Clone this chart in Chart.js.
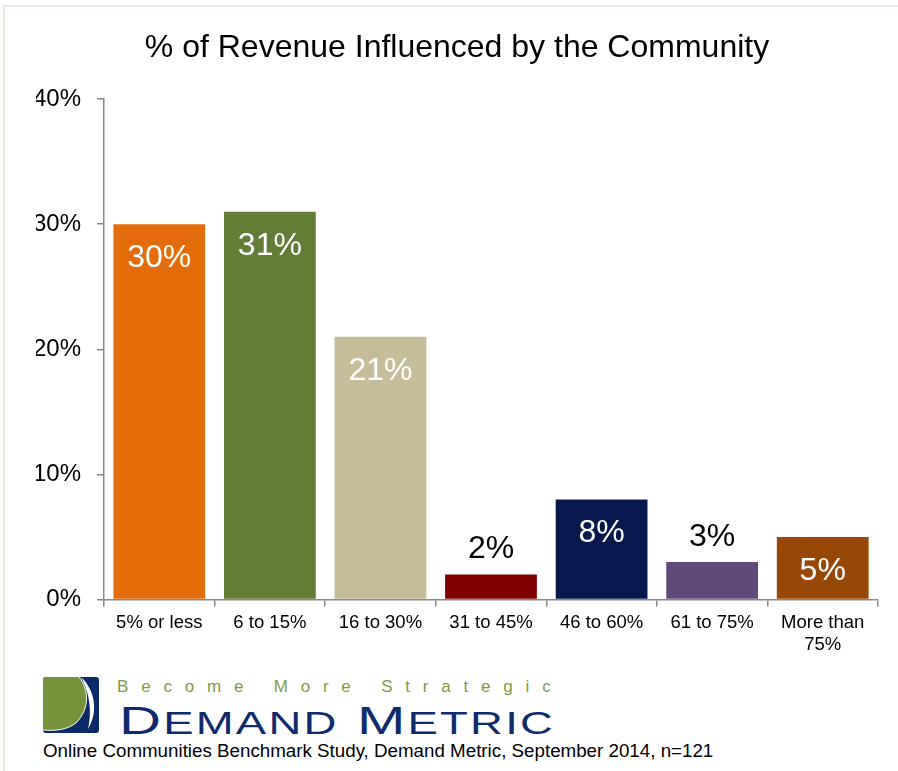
<!DOCTYPE html>
<html>
<head>
<meta charset="utf-8">
<script src="https://cdn.jsdelivr.net/npm/chart.js"></script>
<style>
  body { margin: 0; width: 898px; height: 771px; position: relative; background: #fff; overflow: hidden;
         font-family: Arial, "Liberation Sans", sans-serif; }
  .frame { position: absolute; left: 3px; top: 5px; right: -4px; bottom: -4px;
           border-top: 2px solid #EDE9DA; border-left: 2px solid #EDE9DA; }
  .plot { position: absolute; left: 0; top: 0; width: 898px; height: 663px; }
  .logo { position: absolute; left: 43px; top: 677px; }
  .tagline { position: absolute; left: 117px; top: 678px; font-size: 17px; line-height: 17px;
             letter-spacing: 12.8px; color: #7E9C46; white-space: nowrap; }
  .brand { position: absolute; left: 119px; top: 701px; font-size: 39px; line-height: 39px;
           color: #0E2B6E; white-space: nowrap; transform: scaleX(1.49); transform-origin: left top;
           letter-spacing: 1.5px; }
  .brand .sc { font-size: 30.5px; }
  .source { position: absolute; left: 43px; top: 742px; font-size: 18.75px; line-height: 18px;
            color: #000; white-space: nowrap; }
</style>
</head>
<body>
<div class="frame"></div>
<div class="plot"><canvas id="barChart"></canvas></div>

<svg class="logo" width="56" height="56" viewBox="0 0 56 56">
  <defs>
    <clipPath id="tile"><rect x="0" y="0" width="56" height="56" rx="3"/></clipPath>
  </defs>
  <g clip-path="url(#tile)">
    <rect x="0" y="0" width="56" height="56" fill="#0B2A6A"/>
    <path d="M0,0 H36 C46,12 47,32 33,46 C24,53 12,54 0,53 Z" fill="#76933C"/>
    <path d="M36,0 C46,12 47,32 33,46 C24,53 12,54 0,53" fill="none" stroke="#fff" stroke-width="1"/>
    <path d="M38,0 C53,14 55,36 45,52 C49,36 47,16 38,0 Z" fill="#fff"/>
  </g>
</svg>
<div class="tagline">Become More Strategic</div>
<div class="brand">D<span class="sc">EMAND</span> M<span class="sc">ETRIC</span></div>
<div class="source">Online Communities Benchmark Study, Demand Metric, September 2014, n=121</div>

<script>
const FONT = 'Arial, "Liberation Sans", sans-serif';

const categories = ['5% or less', '6 to 15%', '16 to 30%', '31 to 45%', '46 to 60%', '61 to 75%', ['More than', '75%']];
const shares = [30, 31, 21, 2, 8, 3, 5];
const barColors = ['#E46C0A', '#637D36', '#C4BD97', '#800000', '#08184D', '#604A7B', '#974806'];
const yTicks = [0, 10, 20, 30, 40];

// percent labels: white inside the taller bars, black above the short ones
const valueLabels = {
  id: 'valueLabels',
  afterDatasetsDraw(chart) {
    const ctx = chart.ctx;
    const meta = chart.getDatasetMeta(0);
    ctx.save();
    ctx.font = '32px ' + FONT;
    ctx.textAlign = 'center';
    ctx.textBaseline = 'alphabetic';
    meta.data.forEach((bar, i) => {
      const v = shares[i];
      const inside = v >= 5;
      ctx.fillStyle = inside ? '#fff' : '#000';
      ctx.fillText(v + '%', bar.x, inside ? bar.y + 43 : bar.y - 16.5);
    });
    ctx.restore();
  }
};

const ctx = document.getElementById('barChart').getContext('2d');

new Chart(ctx, {
  type: 'bar',
  data: {
    labels: categories,
    datasets: [{
      data: shares,
      backgroundColor: barColors,
      borderWidth: 0,
      barPercentage: 0.83,
      categoryPercentage: 1
    }]
  },
  options: {
    responsive: true,
    maintainAspectRatio: false,
    animation: false,
    layout: { padding: { left: 36, right: 20, top: 0, bottom: 2 } },
    plugins: {
      legend: { display: false },
      tooltip: { enabled: false },
      title: {
        display: true,
        text: '% of Revenue Influenced by the Community',
        color: '#000',
        font: { family: FONT, size: 32, weight: 'normal' },
        padding: { top: 29, bottom: 31.6 }
      }
    },
    scales: {
      x: {
        grid: { drawOnChartArea: false, drawTicks: true, tickLength: 7, color: '#888', lineWidth: 1.5 },
        border: { color: '#888', width: 1.5 },
        ticks: { color: '#000', padding: 5, maxRotation: 0, autoSkip: false,
                 font: { family: FONT, size: 18.5 } }
      },
      y: {
        min: 0,
        max: 40,
        afterBuildTicks(axis) { axis.ticks = yTicks.map(v => ({ value: v })); },
        // fixed axis width so the plot starts at x=104 while the title stays centred
        afterFit(axis) { axis.width = 68; },
        grid: { drawOnChartArea: false, drawTicks: true, tickLength: 7, color: '#888', lineWidth: 1.5 },
        border: { color: '#888', width: 1.5 },
        ticks: { color: '#000', padding: 16, callback: v => v + '%',
                 font: { family: FONT, size: 24 } }
      }
    }
  },
  plugins: [valueLabels]
});
</script>
</body>
</html>
